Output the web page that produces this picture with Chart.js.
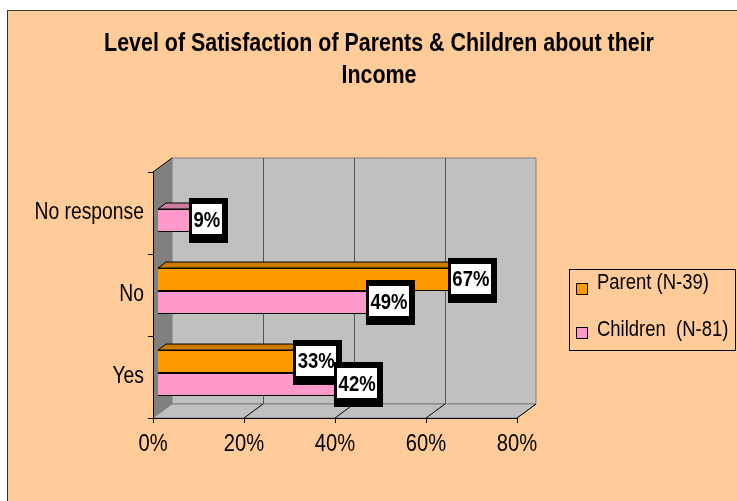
<!DOCTYPE html>
<html>
<head>
<meta charset="utf-8">
<script src="https://cdn.jsdelivr.net/npm/chart.js@4/dist/chart.umd.min.js"></script>
<style>
  html, body { margin: 0; padding: 0; background: #fff; }
  #panel { position: absolute; left: 7px; top: 10px; width: 740px; height: 500px;
           background: #FFCC99; border-left: 1px solid #333; border-top: 1px solid #333; }
  #chart { position: absolute; left: 0; top: 0; }
</style>
</head>
<body>
<div id="panel"></div>
<canvas id="chart" width="737" height="501"></canvas>
<script>
const categories = ["No response", "No", "Yes"];
const parent = [null, 67, 33];     // Parent (N-39), %
const children = [9, 49, 42];      // Children (N-81), %
const seriesNames = ["Parent (N-39)", "Children  (N-81)"];
const titleLines = ["Level of Satisfaction of Parents & Children about their", "Income"];

const FONT = "'Liberation Sans', Arial, sans-serif";
const SQUEEZE = 0.84;              // the original text is set narrow
const FRONT = { dx: -5, dy: 4 };   // bar plane -> front plane
const DEPTH = { dx: 19, dy: -14 }; // front plane -> back wall
const BAR_DEPTH = { dx: 8, dy: -6 };

const ctx = document.getElementById("chart").getContext("2d");
// draw every text narrower, anchored where it was asked to go
const rawFillText = CanvasRenderingContext2D.prototype.fillText;
ctx.fillText = function (text, x, y, maxWidth) {
  this.save();
  this.translate(x, y);
  this.scale(SQUEEZE, 1);
  if (maxWidth === undefined) rawFillText.call(this, text, 0, 0);
  else rawFillText.call(this, text, 0, 0, maxWidth / SQUEEZE);
  this.restore();
};

function shade(hex, f) {
  const n = parseInt(hex.slice(1), 16);
  const r = Math.round(((n >> 16) & 255) * f), g = Math.round(((n >> 8) & 255) * f), b = Math.round((n & 255) * f);
  return `rgb(${r},${g},${b})`;
}

function poly(ctx, pts, fill, stroke) {
  ctx.beginPath();
  ctx.moveTo(pts[0][0], pts[0][1]);
  for (let i = 1; i < pts.length; i++) ctx.lineTo(pts[i][0], pts[i][1]);
  ctx.closePath();
  if (fill) { ctx.fillStyle = fill; ctx.fill(); }
  if (stroke) { ctx.strokeStyle = stroke; ctx.lineWidth = 1; ctx.stroke(); }
}

const box3d = {
  id: "box3d",
  beforeDatasetsDraw(chart) {
    const ctx = chart.ctx, ca = chart.chartArea, xs = chart.scales.x;
    const fl = ca.left + FRONT.dx, fr = ca.right + FRONT.dx;
    const ft = ca.top + FRONT.dy, fb = ca.bottom + FRONT.dy;
    const bl = fl + DEPTH.dx, br = fr + DEPTH.dx, bt = ft + DEPTH.dy, bb = fb + DEPTH.dy;
    ctx.save();
    // back wall, left wall, floor
    poly(ctx, [[bl, bt], [br, bt], [br, bb], [bl, bb]], "#C0C0C0", "#808080");
    poly(ctx, [[fl, ft], [bl, bt], [bl, bb], [fl, fb]], "#808080", null);
    poly(ctx, [[fl, fb], [fr, fb], [br, bb], [bl, bb]], "#C0C0C0", "#808080");
    // grid lines
    xs.ticks.forEach(t => {
      const x = Math.round(xs.getPixelForValue(t.value) + FRONT.dx);
      if (t.value > 0 && t.value < xs.max) {
        ctx.strokeStyle = "#555";
        ctx.beginPath(); ctx.moveTo(x + DEPTH.dx + 0.5, bt); ctx.lineTo(x + DEPTH.dx + 0.5, bb); ctx.stroke();
      }
      ctx.strokeStyle = "#000";
      if (t.value > 0) {
        ctx.beginPath(); ctx.moveTo(x, fb); ctx.lineTo(x + DEPTH.dx, bb); ctx.stroke();
      }
      ctx.beginPath(); ctx.moveTo(x + 0.5, fb); ctx.lineTo(x + 0.5, fb + 5); ctx.stroke();
    });
    // axes
    ctx.strokeStyle = "#000";
    ctx.beginPath();
    ctx.moveTo(fl + 0.5, ft); ctx.lineTo(fl + 0.5, fb + 0.5); ctx.lineTo(fr, fb + 0.5);
    ctx.moveTo(fl, ft); ctx.lineTo(bl, bt);
    ctx.stroke();
    const ys = chart.scales.y;
    const band = ys.getPixelForValue(1) - ys.getPixelForValue(0);
    for (let i = 0; i <= categories.length; i++) {
      const y = Math.round(ft + i * band) + 0.5;
      ctx.beginPath(); ctx.moveTo(fl - 5, y); ctx.lineTo(fl, y); ctx.stroke();
    }
    // 3D top / end faces of bars (front faces drawn by Chart.js on top)
    chart.data.datasets.forEach((ds, di) => {
      chart.getDatasetMeta(di).data.forEach((el, i) => {
        if (ds.data[i] == null) return;
        const x0 = el.base, x1 = el.x, y0 = el.y - el.height / 2, y1 = el.y + el.height / 2;
        const d = BAR_DEPTH;
        poly(ctx, [[x0, y0], [x1, y0], [x1 + d.dx, y0 + d.dy], [x0 + d.dx, y0 + d.dy]], shade(ds.backgroundColor, 0.8), "#000");
        poly(ctx, [[x1, y0], [x1 + d.dx, y0 + d.dy], [x1 + d.dx, y1 + d.dy], [x1, y1]], shade(ds.backgroundColor, 0.6), "#000");
      });
    });
    ctx.restore();
  },
  afterDatasetsDraw(chart) {
    const ctx = chart.ctx;
    ctx.save();
    ctx.font = "bold 22px " + FONT;
    ctx.textAlign = "center";
    ctx.textBaseline = "middle";
    chart.data.datasets.forEach((ds, di) => {
      chart.getDatasetMeta(di).data.forEach((el, i) => {
        const v = ds.data[i];
        if (v == null) return;
        const txt = v + "%";
        const tw = ctx.measureText(txt).width * SQUEEZE;
        const cx = el.x + 8, cy = el.y - 1;
        const w = tw + 3, h = 30;
        const l = Math.round(cx - w / 2), t = Math.round(cy - h / 2);
        ctx.fillStyle = "#000";
        ctx.fillRect(l - 3, t - 6, Math.round(w) + 9, h + 15);
        ctx.fillStyle = "#fff";
        ctx.fillRect(l, t, Math.round(w), h);
        ctx.fillStyle = "#000";
        ctx.fillText(txt, cx, cy + 1);
      });
    });
    ctx.restore();
  },
  afterDraw(chart) {
    const ctx = chart.ctx;
    ctx.save();
    // title
    ctx.fillStyle = "#000";
    ctx.textAlign = "center";
    ctx.textBaseline = "alphabetic";
    ctx.font = "bold 25.5px " + FONT;
    titleLines.forEach((s, i) => ctx.fillText(s, 379, 51 + i * 32));
    // legend
    ctx.strokeStyle = "#000";
    ctx.lineWidth = 1;
    ctx.strokeRect(569.5, 269.5, 166, 81);
    ctx.font = "22px " + FONT;
    ctx.textAlign = "left";
    ctx.textBaseline = "alphabetic";
    chart.data.datasets.forEach((ds, di) => {
      const top = 283 + di * 44;
      ctx.fillStyle = ds.backgroundColor;
      ctx.fillRect(576.5, top + 0.5, 11, 11);
      ctx.strokeStyle = "#000";
      ctx.strokeRect(576.5, top + 0.5, 11, 11);
      ctx.fillStyle = "#000";
      ctx.fillText(ds.label, 597, top + 6 + di * 3);
    });
    ctx.restore();
  }
};

new Chart(ctx, {
  type: "bar",
  data: {
    labels: categories,
    datasets: [
      { label: seriesNames[0], data: parent, backgroundColor: "#FF9900", borderColor: "#000", borderWidth: 1,
        categoryPercentage: 0.56, barPercentage: 1 },
      { label: seriesNames[1], data: children, backgroundColor: "#FF99CC", borderColor: "#000", borderWidth: 1,
        categoryPercentage: 0.56, barPercentage: 1 }
    ]
  },
  options: {
    indexAxis: "y",
    responsive: false,
    animation: false,
    devicePixelRatio: 1,
    layout: { padding: { left: 0, top: 168, right: 215, bottom: 0 } },
    plugins: { legend: { display: false }, title: { display: false }, tooltip: { enabled: false } },
    scales: {
      x: {
        min: 0, max: 80,
        grid: { display: false, drawTicks: false }, border: { display: false },
        ticks: { stepSize: 20, callback: v => v + "%", color: "#000", padding: 16, labelOffset: -5,
                 font: { family: FONT, size: 24 } },
        afterFit: s => { s.height = 87; }
      },
      y: {
        grid: { display: false, drawTicks: false }, border: { display: false },
        ticks: { color: "#000", padding: 14, labelOffset: 4, font: { family: FONT, size: 23 } },
        afterFit: s => { s.width = 158; }
      }
    }
  },
  plugins: [box3d]
});
</script>
</body>
</html>
